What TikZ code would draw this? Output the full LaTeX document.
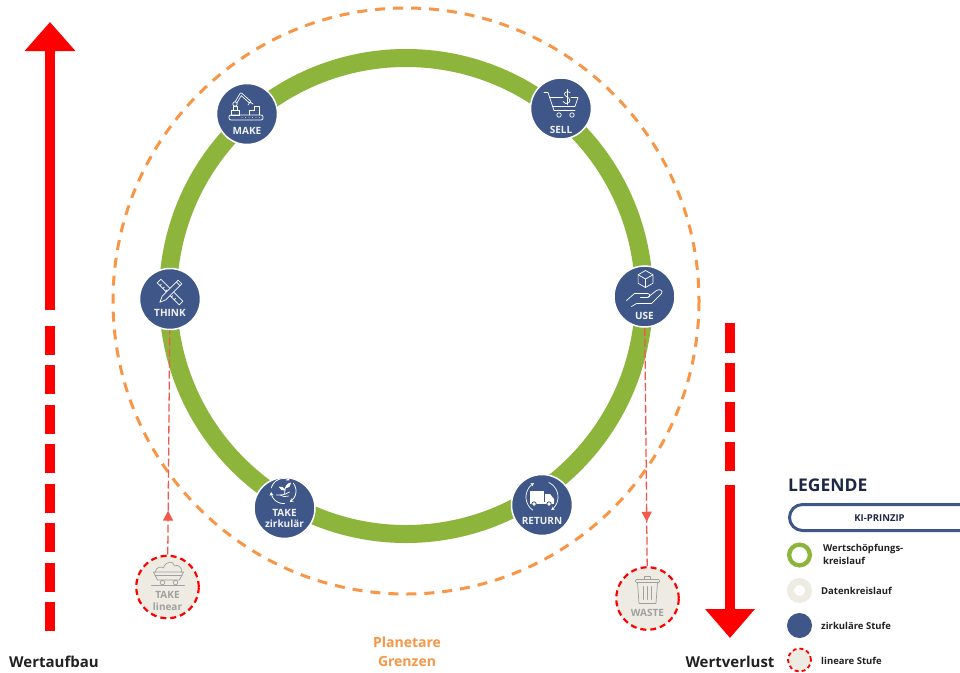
\documentclass[tikz,border=0pt]{standalone}
\usepackage{fontspec}
\setmainfont{Open Sans}
\usetikzlibrary{arrows.meta}
\usetikzlibrary{decorations.markings}

\definecolor{stagenavy}{RGB}{62,86,136}
\definecolor{ringgreen}{RGB}{141,181,60}
\definecolor{planetorange}{RGB}{247,150,70}
\definecolor{databeige}{RGB}{237,235,226}
\definecolor{linkred}{RGB}{240,88,76}
\definecolor{greytext}{RGB}{160,160,160}
\definecolor{darktext}{RGB}{33,33,33}
\definecolor{legendnavy}{RGB}{30,40,70}

\tikzset{
  stage/.style={circle, fill=stagenavy, draw=white, line width=1.5pt, minimum size=61pt, inner sep=0pt},
  linstage/.style={circle, fill=databeige, draw=red, line width=2.2pt, dash pattern=on 6pt off 4pt, minimum size=62.5pt, inner sep=0pt},
  stagelabel/.style={text=white!92!stagenavy, font=\bfseries\fontsize{10}{11}\selectfont, inner sep=0pt, align=center},
  linlabel/.style={stagelabel, text=greytext, font=\bfseries\fontsize{10}{12}\selectfont},
  legtext/.style={anchor=west, inner sep=0pt, align=left, text=darktext, font=\bfseries\fontsize{9.5}{13}\selectfont},
  bigtext/.style={inner sep=0pt, text=darktext, font=\bfseries\fontsize{15}{18}\selectfont},
  bigarrow/.style={draw=red, line width=9.5pt},
  link/.style={draw=linkred, line width=1.3pt, dash pattern=on 8pt off 3pt},
  midarrow/.style={postaction={decorate, decoration={markings,
      mark=at position #1 with {\arrow{Triangle[length=10pt,width=10pt]}}}}},
  icon/.style={draw=white, line width=0.7pt, line join=round, line cap=round},
  greyicon/.style={icon, draw=greytext},
  pics/thinkicon/.style={code={
    \draw[icon] (-9.2,-19.8) -- (12.8,2.2) -- (9.2,5.8) -- (-12.8,-16.2) -- cycle;
    \foreach \d in {4,8,...,24}
      \draw[icon] ({-12.8+0.707*\d},{-16.2+0.707*\d}) -- ++(1.4,-1.4);
    \draw[icon, fill=stagenavy] (8.2,-18.8) -- (11.8,-15.2) -- (-4.2,0.8) -- (-10.2,3.2) -- (-7.8,-2.8) -- cycle;
    \draw[icon] (6.4,-17) -- (10,-13.4);
  }},
  pics/makeicon/.style={code={
    \draw[icon, rounded corners=2pt] (-18,1) rectangle (16,6);
    \foreach \x in {-5,-1.5,...,13} \fill[white] (\x,3.5) circle (0.45pt);
    \draw[icon] (-16,1) rectangle (-8,-4);
    \draw[icon] (-14,-4) -- (-14,-8) -- (-10,-8) -- (-10,-4);
    \draw[white, line width=2.8pt, line cap=round, line join=round] (-12,-10) -- (-6,-20) -- (3,-12);
    \draw[stagenavy, line width=1.2pt, line cap=round, line join=round] (-12,-10) -- (-6,-20) -- (3,-12);
    \draw[icon, fill=stagenavy] (-12,-10) circle (2.2pt);
    \draw[icon] (3,-12) -- (1,-9) (3,-12) -- (6,-10);
    \draw[icon] (2,1) -- (2,-4) -- (7,-4) -- (7,-8) -- (12,-8) -- (12,1);
  }},
  pics/sellicon/.style={code={
    \draw[icon] (-17,-16) -- (-13,-16) -- (-7,2) -- (14,2);
    \draw[icon] (2,-11) -- (-11.5,-11) (10,-11) -- (17,-11) -- (14,-2) -- (-8.5,-2);
    \draw[icon] (-2,6.5) circle (2.2pt) (11,6.5) circle (2.2pt);
    \draw[icon] (9,-16) .. controls (6,-18) and (2,-16) .. (4,-13) .. controls (6,-11) and (11,-10) .. (8,-6) .. controls (6,-4) and (3,-5) .. (2,-7);
    \draw[icon] (6,-19) -- (6,-4);
  }},
  pics/useicon/.style={code={
    \draw[icon] (1,-26) -- (8.4,-21.75) -- (8.4,-13.25) -- (1,-9) -- (-6.4,-13.25) -- (-6.4,-21.75) -- cycle;
    \draw[icon] (-6.4,-21.75) -- (1,-17.5) -- (8.4,-21.75) (1,-17.5) -- (1,-9);
    \draw[icon] (-18,4) -- (-10,-3) -- (3,-3) .. controls (6,-3) and (6,1) .. (3,1) -- (-4,1);
    \draw[icon] (3,1) -- (12,-6) .. controls (15,-8) and (19,-6) .. (17,-3) -- (7,7) -- (-8,7) -- (-13,10);
  }},
  pics/returnicon/.style={code={
    \draw[icon, -{Stealth[length=3.5pt,width=3.5pt]}] plot[domain=125:240, samples=18] ({16*cos(\x)},{-8+16*sin(\x)});
    \draw[icon, -{Stealth[length=3.5pt,width=3.5pt]}] plot[domain=295:415, samples=18] ({16*cos(\x)},{-8+16*sin(\x)});
    \fill[white] (-12,-14) rectangle (2,-3);
    \fill[white] (3,-11) -- (8,-11) -- (12,-6) -- (12,-3) -- (3,-3) -- cycle;
    \fill[white] (-12,-3) rectangle (12,-1.5);
    \draw[stagenavy, fill=white, line width=0.8pt] (-8,-1) circle (2.2pt) (7,-1) circle (2.2pt);
  }},
  pics/takecircicon/.style={code={
    \draw[icon, line width=0.8pt, -{Stealth[length=3.5pt,width=4pt]}] plot[domain=195:300, samples=16] ({-1+12.5*cos(\x)},{-17+12.5*sin(\x)});
    \draw[icon, line width=0.8pt, -{Stealth[length=3.5pt,width=4pt]}] plot[domain=320:420, samples=16] ({-1+12.5*cos(\x)},{-17+12.5*sin(\x)});
    \draw[icon, line width=0.8pt, -{Stealth[length=3.5pt,width=4pt]}] plot[domain=85:175, samples=16] ({-1+12.5*cos(\x)},{-17+12.5*sin(\x)});
    \draw[icon] (-8,-13) -- (-4,-13) .. controls (-1,-13) and (2,-14) .. (5,-16);
    \draw[icon] (-4,-13) .. controls (-2,-11) and (1,-11) .. (4,-12);
    \draw[icon] (0,-14.5) -- (1,-21);
    \draw[icon, fill=white] (1,-20) .. controls (2,-24) and (5,-25) .. (6,-25) .. controls (6,-22) and (4,-20) .. (1,-20);
    \draw[icon, fill=white] (0.5,-18) .. controls (-1,-21) and (-4,-21) .. (-5,-21) .. controls (-4,-18) and (-2,-17.5) .. (0.5,-18);
  }},
  pics/takelinicon/.style={code={
    \draw[greyicon] (-16,-2) -- (17,-2);
    \draw[greyicon] (-14,-15) -- (16,-15) -- (12,-7) -- (-10,-7) -- cycle;
    \draw[greyicon] (-12.5,-12) -- (14.5,-12);
    \draw[greyicon] (-5,-4.5) circle (2.3pt) (8,-4.5) circle (2.3pt);
    \draw[greyicon] (-12,-15) .. controls (-12,-20) and (-6,-21) .. (-4,-19) .. controls (-2,-26) and (6,-27) .. (7,-21) .. controls (10,-23) and (15,-20) .. (14,-15);
  }},
  pics/wasteicon/.style={code={
    \draw[greyicon] (-3,-19) -- (-3,-22) -- (3,-22) -- (3,-19);
    \draw[greyicon, rounded corners=1pt] (-12,-16) rectangle (12,-19);
    \draw[greyicon] (-10,-16) -- (-8.5,5) -- (8.5,5) -- (10,-16);
    \foreach \x in {-4,0,4} \draw[greyicon] (\x,-12) -- (\x,1);
  }}
}

\begin{document}
\begin{tikzpicture}[x=1pt, y=-1pt]
	\useasboundingbox (0,0) rectangle (960,672);
	\fill[white] (0,0) rectangle (960,672);

	% value arrows
	\coordinate (up-foot) at (50,631);
	\coordinate (up-mid) at (50,325.5);
	\coordinate (up-solid) at (50,310);
	\coordinate (up-tip) at (50,22);
	\draw[bigarrow, dash pattern=on 29pt off 10.5pt] (up-foot) -- (up-mid);
	\draw[bigarrow, -{Triangle[length=29pt,width=49pt]}] (up-solid) -- (up-tip);
	\coordinate (down-top) at (730,323);
	\coordinate (down-mid) at (730,471);
	\coordinate (down-solid) at (730,485);
	\coordinate (down-tip) at (730,638);
	\draw[bigarrow, dash pattern=on 29.5pt off 10pt] (down-top) -- (down-mid);
	\draw[bigarrow, -{Triangle[length=29pt,width=48pt]}] (down-solid) -- (down-tip);
	\node[bigtext] (wertaufbau) at (54,662) {Wertaufbau};
	\node[bigtext] (wertverlust) at (730,662) {Wertverlust};

	% planetary boundary and value cycle
	\draw[planetorange, line width=3pt, dash pattern=on 10pt off 8pt] (406,301) circle (293);
	\draw[ringgreen, line width=18pt] (406,296) circle (238);
	\node[inner sep=0pt, align=center, text=planetorange, font=\bfseries\fontsize{14}{19}\selectfont] (grenzen) at (407,652) {Planetare\\Grenzen};

	% stages
	\node[stage] (make) at (247,114) {};
	\node[stage] (sell) at (561,108.5) {};
	\node[stage] (think) at (170,299) {};
	\node[stage] (use) at (644.5,296.5) {};
	\node[stage] (takecirc) at (284.5,508) {};
	\node[stage] (return) at (542,505) {};
	\node[linstage] (takelin) at (167.5,587) {};
	\node[linstage] (waste) at (647.5,598.5) {};

	\draw[link, midarrow=44pt] (takelin) -- (think);
	\draw[link, midarrow=194pt] (use) -- (waste);

	\pic at (make) {makeicon};
	\pic at (sell) {sellicon};
	\pic at (think) {thinkicon};
	\pic at (use) {useicon};
	\pic at (takecirc) {takecircicon};
	\pic at (return) {returnicon};
	\pic at (takelin) {takelinicon};
	\pic at (waste) {wasteicon};

	\node[stagelabel] (make-l) at ([yshift=-17pt]make.center) {MAKE};
	\node[stagelabel] (sell-l) at ([yshift=-21pt]sell.center) {SELL};
	\node[stagelabel] (think-l) at ([yshift=-14pt]think.center) {THINK};
	\node[stagelabel] (use-l) at ([yshift=-19.5pt]use.center) {USE};
	\node[stagelabel] (return-l) at ([yshift=-16pt]return.center) {RETURN};
	\node[stagelabel] (takecirc-l) at ([yshift=-10pt]takecirc.center) {TAKE\\zirkulär};
	\node[linlabel] (takelin-l) at ([yshift=-13.5pt]takelin.center) {TAKE\\linear};
	\node[linlabel] (waste-l) at ([yshift=-14.5pt]waste.center) {WASTE};

	% legend
	\node[anchor=west, inner sep=0pt, text=legendnavy, font=\bfseries\fontsize{17.5}{18}\selectfont] (legende) at (788,485.5) {LEGENDE};
	\draw[stagenavy, line width=3pt, rounded corners=13pt] (960,504.5) -| (789.5,530.5) -- (960,530.5);
	\node[inner sep=0pt, text=legendnavy, font=\bfseries\fontsize{9.5}{11}\selectfont] (kiprinzip) at (879.5,518) {KI-PRINZIP};
	\node[circle, draw=ringgreen, line width=4.3pt, minimum size=20.7pt, inner sep=0pt] (lg-ring) at (799.5,555) {};
	\node[circle, draw=databeige, line width=7pt, minimum size=18pt, inner sep=0pt] (lg-data) at (799.5,590.5) {};
	\node[circle, fill=stagenavy, minimum size=25pt, inner sep=0pt] (lg-circ) at (799.5,625.5) {};
	\node[circle, fill=databeige, draw=red, line width=1.8pt, dash pattern=on 4pt off 3pt, minimum size=23pt, inner sep=0pt] (lg-lin) at (799.5,660) {};
	\node[legtext] (lg-ring-t) at (823,554.9) {Wertschöpfungs-\\kreislauf};
	\node[legtext] (lg-data-t) at (821,591) {Datenkreislauf};
	\node[legtext] (lg-circ-t) at (821,625.5) {zirkuläre Stufe};
	\node[legtext] (lg-lin-t) at (821,661) {lineare Stufe};
\end{tikzpicture}
\end{document}
